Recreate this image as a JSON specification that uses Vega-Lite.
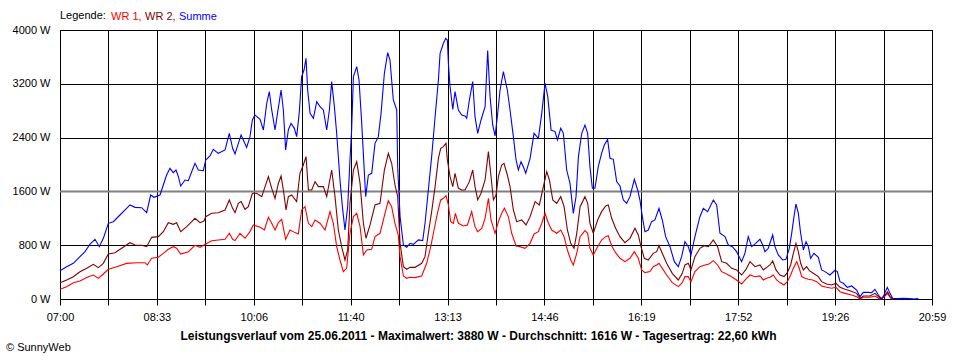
{
"$schema": "https://vega.github.io/schema/vega-lite/v6.json",
"width": 872, "height": 269,
"autosize": {"type": "none"},
"padding": {"left": 60, "top": 30, "right": 28, "bottom": 61},
"background": "white",
"config": {"font": "Liberation Sans", "view": {"stroke": "black", "strokeWidth": 1}},
"title": {"text": "© SunnyWeb", "orient": "bottom", "anchor": "start", "frame": "group", "dx": -54, "offset": 1, "fontSize": 11, "fontWeight": "normal", "color": "black", "font": "Liberation Sans"},
"datasets": {
"wr1": [{"t":420.0,"w":144},{"t":426.4,"w":183},{"t":432.8,"w":243},{"t":439.2,"w":268},{"t":447.3,"w":332},{"t":452.1,"w":357},{"t":456.9,"w":307},{"t":461.7,"w":372},{"t":466.5,"w":441},{"t":474.5,"w":480},{"t":484.1,"w":530},{"t":493.8,"w":540},{"t":501.8,"w":540},{"t":504.0,"w":506},{"t":508.2,"w":605},{"t":514.6,"w":620},{"t":519.4,"w":679},{"t":524.2,"w":739},{"t":529.0,"w":778},{"t":532.2,"w":754},{"t":536.1,"w":669},{"t":543.5,"w":704},{"t":549.9,"w":798},{"t":554.7,"w":769},{"t":560.2,"w":818},{"t":565.9,"w":867},{"t":572.3,"w":877},{"t":578.8,"w":888},{"t":582.9,"w":977},{"t":586.1,"w":888},
{"t":588.4,"w":868},{"t":593.2,"w":977},{"t":598.0,"w":903},{"t":602.8,"w":1002},{"t":606.0,"w":1101},{"t":612.5,"w":1066},{"t":616.6,"w":1026},{"t":620.5,"w":1215},{"t":623.7,"w":1126},{"t":626.9,"w":1026},{"t":630.1,"w":1135},{"t":633.3,"w":1185},{"t":637.1,"w":888},{"t":641.3,"w":1026},{"t":646.1,"w":987},{"t":649.3,"w":967},{"t":652.5,"w":1324},{"t":655.7,"w":1373},{"t":659.0,"w":1126},{"t":662.2,"w":1076},{"t":665.4,"w":1175},{"t":670.2,"w":1126},{"t":675.0,"w":1026},{"t":679.8,"w":1299},{"t":683.0,"w":1126},{"t":686.2,"w":779},{"t":689.4,"w":580},{"t":692.6,"w":407},{"t":695.8,"w":456},{"t":699.0,"w":977},{"t":702.3,"w":1225},{"t":705.5,"w":1274},{"t":708.7,"w":1076},{"t":711.9,"w":655},{"t":715.1,"w":729},{"t":719.9,"w":739},{"t":723.1,"w":927},{"t":727.9,"w":977},{"t":732.7,"w":1274},{"t":735.9,"w":1463},{"t":739.1,"w":1373},{"t":742.3,"w":1126},{"t":745.5,"w":952},{"t":747.2,"w":630},{"t":750.4,"w":342},{"t":753.6,"w":308},
{"t":756.8,"w":323},{"t":761.6,"w":318},{"t":768.0,"w":342},{"t":772.8,"w":531},{"t":776.7,"w":779},{"t":779.9,"w":1026},{"t":783.1,"w":1274},{"t":786.3,"w":1473},{"t":788.9,"w":1497},{"t":791.4,"w":1537},{"t":793.7,"w":1398},{"t":795.9,"w":1150},{"t":798.5,"w":1126},{"t":800.4,"w":1274},{"t":803.3,"w":1126},{"t":808.1,"w":1086},{"t":812.0,"w":1101},{"t":816.1,"w":1299},{"t":819.3,"w":1076},{"t":821.9,"w":1002},{"t":825.8,"w":1051},{"t":829.0,"w":1200},{"t":832.2,"w":1497},{"t":834.7,"w":1175},{"t":838.6,"w":977},{"t":841.8,"w":1150},{"t":845.0,"w":1274},{"t":847.6,"w":1349},{"t":851.4,"w":1225},{"t":854.6,"w":977},{"t":858.8,"w":789},{"t":862.6,"w":779},{"t":867.4,"w":754},{"t":872.3,"w":828},{"t":876.1,"w":967},{"t":880.3,"w":1002},{"t":883.5,"w":1126},{"t":886.7,"w":1274},{"t":889.9,"w":1126},{"t":893.1,"w":1026},{"t":897.9,"w":977},{"t":901.8,"w":1026},{"t":905.0,"w":927},{"t":908.2,"w":729},{"t":911.4,"w":580},{"t":913.9,"w":506},{"t":917.2,"w":679},{"t":920.4,"w":927},
{"t":925.1,"w":1016},{"t":927.7,"w":977},{"t":929.9,"w":754},{"t":933.1,"w":654},{"t":937.3,"w":778},{"t":941.1,"w":877},{"t":945.0,"w":927},{"t":947.5,"w":942},{"t":950.8,"w":788},{"t":954.6,"w":689},{"t":958.8,"w":605},{"t":963.6,"w":555},{"t":968.4,"w":605},{"t":972.6,"w":704},{"t":976.4,"w":605},{"t":979.6,"w":432},{"t":982.8,"w":392},{"t":987.6,"w":407},{"t":990.8,"w":481},{"t":994.1,"w":506},{"t":996.3,"w":531},{"t":999.5,"w":456},{"t":1003.7,"w":357},{"t":1009.1,"w":243},{"t":1014.9,"w":184},{"t":1018.7,"w":243},{"t":1021.3,"w":332},{"t":1024.5,"w":332},{"t":1027.1,"w":258},{"t":1030.9,"w":407},{"t":1035.7,"w":481},{"t":1040.6,"w":506},{"t":1044.4,"w":521},{"t":1048.6,"w":570},{"t":1052.7,"w":506},{"t":1056.6,"w":407},{"t":1061.4,"w":372},{"t":1066.2,"w":332},{"t":1071.0,"w":283},{"t":1075.8,"w":223},{"t":1079.7,"w":293},{"t":1083.9,"w":357},{"t":1088.7,"w":332},
{"t":1093.5,"w":343},{"t":1096.7,"w":283},{"t":1099.9,"w":308},{"t":1103.1,"w":323},{"t":1106.3,"w":357},{"t":1109.5,"w":283},{"t":1112.7,"w":244},{"t":1116.6,"w":209},{"t":1119.8,"w":258},{"t":1123.0,"w":357},{"t":1125.6,"w":457},{"t":1128.8,"w":556},{"t":1131.3,"w":457},{"t":1133.6,"w":333},{"t":1136.8,"w":308},{"t":1140.0,"w":293},{"t":1144.2,"w":283},{"t":1148.0,"w":258},{"t":1152.8,"w":194},{"t":1157.6,"w":174},{"t":1162.5,"w":159},{"t":1166.6,"w":174},{"t":1170.5,"w":109},{"t":1175.3,"w":84},{"t":1181.7,"w":59},{"t":1186.5,"w":35},{"t":1189.7,"w":0},{"t":1192.9,"w":25},{"t":1199.3,"w":25},{"t":1204.1,"w":45},{"t":1208.9,"w":0},{"t":1213.8,"w":45},{"t":1216.3,"w":84},{"t":1219.2,"w":10},{"t":1221.8,"w":0}],
"wr2": [{"t":420.0,"w":243},{"t":426.4,"w":282},{"t":432.8,"w":332},{"t":439.2,"w":406},{"t":445.7,"w":456},{"t":452.1,"w":516},{"t":456.9,"w":466},{"t":461.7,"w":530},{"t":466.5,"w":669},{"t":472.9,"w":689},{"t":479.3,"w":754},{"t":487.3,"w":837},{"t":492.2,"w":803},{"t":498.6,"w":798},{"t":503.4,"w":778},{"t":508.2,"w":917},{"t":514.6,"w":927},{"t":519.4,"w":1001},{"t":524.2,"w":1135},{"t":529.0,"w":1110},{"t":532.2,"w":1135},{"t":536.1,"w":1001},{"t":541.9,"w":1075},{"t":546.7,"w":1150},{"t":549.9,"w":1199},{"t":554.7,"w":1135},{"t":558.5,"w":1160},{"t":560.2,"w":1224},{"t":565.9,"w":1274},{"t":572.3,"w":1283},{"t":578.8,"w":1323},{"t":582.9,"w":1472},{"t":586.1,"w":1348},
{"t":588.4,"w":1284},{"t":591.6,"w":1423},{"t":594.2,"w":1448},{"t":598.0,"w":1334},{"t":601.2,"w":1373},{"t":605.1,"w":1572},{"t":609.2,"w":1572},{"t":614.1,"w":1522},{"t":617.3,"w":1671},{"t":620.5,"w":1819},{"t":623.7,"w":1646},{"t":626.9,"w":1497},{"t":630.1,"w":1720},{"t":632.7,"w":1829},{"t":634.9,"w":1621},{"t":637.5,"w":1324},{"t":639.7,"w":1522},{"t":642.9,"w":1547},{"t":647.7,"w":1448},{"t":650.9,"w":1869},{"t":654.1,"w":1993},{"t":656.7,"w":2117},{"t":659.0,"w":1621},{"t":662.2,"w":1621},{"t":665.4,"w":1745},{"t":668.6,"w":1671},{"t":673.4,"w":1671},{"t":676.6,"w":1522},{"t":681.4,"w":1918},{"t":684.6,"w":1522},{"t":687.8,"w":1026},{"t":691.0,"w":779},{"t":694.2,"w":580},{"t":696.8,"w":729},{"t":699.0,"w":1423},{"t":702.3,"w":1918},{"t":705.5,"w":2042},{"t":708.7,"w":1720},{"t":711.9,"w":1126},{"t":714.4,"w":903},{"t":718.3,"w":1101},{"t":723.1,"w":1398},{"t":727.9,"w":1423},{"t":732.1,"w":1918},{"t":735.9,"w":2166},{"t":739.1,"w":2018},{"t":742.3,"w":1695},{"t":744.9,"w":1522},{"t":747.2,"w":828},{"t":750.4,"w":481},{"t":753.6,"w":442},
{"t":756.8,"w":471},{"t":761.6,"w":471},{"t":768.0,"w":531},{"t":771.2,"w":630},{"t":774.4,"w":977},{"t":777.6,"w":1299},{"t":780.9,"w":1671},{"t":784.1,"w":2092},{"t":786.3,"w":2241},{"t":788.9,"w":2265},{"t":791.4,"w":2315},{"t":792.7,"w":2067},{"t":795.3,"w":1819},{"t":797.9,"w":1671},{"t":800.1,"w":1869},{"t":803.3,"w":1646},{"t":806.5,"w":1621},{"t":809.7,"w":1621},{"t":813.9,"w":1745},{"t":817.1,"w":1918},{"t":819.3,"w":1671},{"t":821.9,"w":1473},{"t":825.1,"w":1572},{"t":829.0,"w":1770},{"t":832.2,"w":2191},{"t":834.4,"w":1869},{"t":837.0,"w":1473},{"t":839.5,"w":1547},{"t":841.8,"w":1819},{"t":845.0,"w":1993},{"t":847.2,"w":2018},{"t":850.4,"w":1844},{"t":853.0,"w":1671},{"t":856.2,"w":1324},{"t":859.4,"w":1150},{"t":864.2,"w":1175},{"t":868.4,"w":1101},{"t":872.3,"w":1225},{"t":877.1,"w":1448},{"t":881.2,"w":1398},{"t":885.1,"w":1671},{"t":888.3,"w":1894},{"t":890.9,"w":1770},{"t":894.1,"w":1473},{"t":897.9,"w":1423},{"t":901.8,"w":1522},{"t":905.0,"w":1373},{"t":908.2,"w":1026},{"t":911.4,"w":828},{"t":914.6,"w":754},{"t":917.2,"w":977},{"t":920.4,"w":1373},
{"t":925.1,"w":1522},{"t":927.7,"w":1423},{"t":929.9,"w":1125},{"t":933.1,"w":977},{"t":937.3,"w":1175},{"t":941.1,"w":1299},{"t":945.0,"w":1383},{"t":947.5,"w":1398},{"t":950.8,"w":1200},{"t":954.6,"w":1051},{"t":958.8,"w":927},{"t":963.6,"w":838},{"t":968.4,"w":902},{"t":973.2,"w":1051},{"t":976.4,"w":952},{"t":979.0,"w":778},{"t":982.2,"w":605},{"t":986.0,"w":580},{"t":990.8,"w":679},{"t":994.1,"w":704},{"t":996.3,"w":793},{"t":999.5,"w":679},{"t":1003.7,"w":531},{"t":1009.1,"w":382},{"t":1014.9,"w":283},{"t":1018.7,"w":382},{"t":1021.3,"w":506},{"t":1024.5,"w":531},{"t":1027.1,"w":432},{"t":1030.9,"w":630},{"t":1035.7,"w":754},{"t":1039.9,"w":793},{"t":1043.8,"w":778},{"t":1048.6,"w":877},{"t":1052.7,"w":778},{"t":1056.6,"w":555},{"t":1061.4,"w":531},{"t":1066.2,"w":456},{"t":1071.0,"w":432},{"t":1075.8,"w":357},{"t":1079.7,"w":432},{"t":1083.9,"w":555},{"t":1088.7,"w":481},
{"t":1093.5,"w":506},{"t":1096.7,"w":432},{"t":1099.9,"w":471},{"t":1103.1,"w":506},{"t":1105.7,"w":566},{"t":1108.9,"w":432},{"t":1112.7,"w":357},{"t":1116.6,"w":333},{"t":1119.8,"w":392},{"t":1123.0,"w":506},{"t":1125.6,"w":680},{"t":1128.1,"w":828},{"t":1130.4,"w":704},{"t":1132.6,"w":531},{"t":1135.2,"w":432},{"t":1138.4,"w":481},{"t":1141.0,"w":422},{"t":1144.8,"w":382},{"t":1149.6,"w":333},{"t":1152.8,"w":258},{"t":1157.6,"w":224},{"t":1162.5,"w":209},{"t":1166.6,"w":234},{"t":1170.5,"w":174},{"t":1175.3,"w":144},{"t":1180.1,"w":124},{"t":1186.5,"w":84},{"t":1189.7,"w":10},{"t":1192.9,"w":45},{"t":1199.3,"w":45},{"t":1204.1,"w":84},{"t":1207.4,"w":35},{"t":1210.6,"w":0},{"t":1213.8,"w":59},{"t":1216.3,"w":109},{"t":1218.6,"w":35},{"t":1221.8,"w":0}],
"sum": [{"t":420.0,"w":421},{"t":426.4,"w":480},{"t":432.8,"w":530},{"t":439.2,"w":629},{"t":444.1,"w":704},{"t":448.9,"w":818},{"t":453.7,"w":888},{"t":457.8,"w":778},{"t":461.7,"w":902},{"t":466.5,"w":1125},{"t":471.3,"w":1150},{"t":477.7,"w":1249},{"t":484.1,"w":1348},{"t":487.3,"w":1398},{"t":492.2,"w":1363},{"t":498.6,"w":1358},{"t":503.4,"w":1283},{"t":507.2,"w":1546},{"t":510.4,"w":1512},{"t":516.2,"w":1546},{"t":519.4,"w":1695},{"t":522.6,"w":1844},{"t":525.8,"w":1943},{"t":529.0,"w":1878},{"t":531.6,"w":1918},{"t":533.9,"w":1819},{"t":536.1,"w":1680},{"t":540.3,"w":1769},{"t":543.5,"w":1759},{"t":546.7,"w":1893},{"t":549.9,"w":2018},{"t":553.1,"w":1918},{"t":557.9,"w":1908},{"t":560.2,"w":2067},{"t":564.3,"w":2126},{"t":567.5,"w":2226},{"t":572.3,"w":2166},{"t":578.8,"w":2216},{"t":582.9,"w":2464},{"t":586.1,"w":2241},
{"t":588.4,"w":2156},{"t":591.6,"w":2315},{"t":594.2,"w":2439},{"t":596.4,"w":2365},{"t":599.6,"w":2255},{"t":602.8,"w":2414},{"t":605.1,"w":2662},{"t":607.6,"w":2736},{"t":612.5,"w":2672},{"t":615.7,"w":2513},{"t":618.9,"w":2910},{"t":621.4,"w":3083},{"t":623.7,"w":2811},{"t":626.9,"w":2513},{"t":629.5,"w":2786},{"t":632.7,"w":3108},{"t":634.9,"w":2811},{"t":637.1,"w":2216},{"t":639.7,"w":2513},{"t":642.3,"w":2612},{"t":645.5,"w":2538},{"t":647.7,"w":2414},{"t":650.3,"w":2786},{"t":652.5,"w":3306},{"t":654.8,"w":3405},{"t":656.7,"w":3579},{"t":658.3,"w":3108},{"t":660.6,"w":2761},{"t":663.8,"w":2687},{"t":667.0,"w":2934},{"t":670.2,"w":2860},{"t":673.4,"w":2811},{"t":676.6,"w":2513},{"t":679.2,"w":2811},{"t":681.4,"w":3232},{"t":684.0,"w":2860},{"t":686.2,"w":2464},{"t":689.4,"w":1770},{"t":691.7,"w":1373},{"t":694.2,"w":1026},{"t":696.8,"w":1373},{"t":699.0,"w":2067},{"t":700.6,"w":2513},{"t":702.3,"w":3306},{"t":705.5,"w":3455},{"t":707.7,"w":3257},{"t":710.3,"w":2612},{"t":714.1,"w":1522},{"t":716.7,"w":1844},{"t":719.9,"w":1869},{"t":723.1,"w":2315},{"t":726.3,"w":2414},{"t":728.9,"w":2761},{"t":732.1,"w":3356},{"t":735.3,"w":3663},{"t":737.5,"w":3554},{"t":740.7,"w":2959},{"t":744.0,"w":2811},{"t":744.9,"w":1968},{"t":747.2,"w":1225},{"t":750.4,"w":803},{"t":753.6,"w":769},
{"t":756.8,"w":828},{"t":760.0,"w":813},{"t":764.8,"w":878},{"t":769.0,"w":868},{"t":771.2,"w":1126},{"t":774.4,"w":1621},{"t":777.6,"w":2117},{"t":780.9,"w":2711},{"t":784.1,"w":3257},{"t":785.7,"w":3653},{"t":788.9,"w":3802},{"t":791.1,"w":3876},{"t":792.7,"w":3851},{"t":793.7,"w":3504},{"t":795.3,"w":3157},{"t":797.9,"w":2820},{"t":800.1,"w":3083},{"t":803.3,"w":2811},{"t":806.5,"w":2736},{"t":809.7,"w":2721},{"t":811.3,"w":2687},{"t":813.9,"w":2959},{"t":817.1,"w":3232},{"t":819.3,"w":2711},{"t":821.9,"w":2464},{"t":825.1,"w":2662},{"t":829.0,"w":2860},{"t":831.5,"w":3693},{"t":833.8,"w":3009},{"t":836.3,"w":2588},{"t":838.6,"w":2424},{"t":840.8,"w":2711},{"t":843.4,"w":3108},{"t":846.6,"w":3380},{"t":850.4,"w":3108},{"t":853.0,"w":2811},{"t":856.2,"w":2414},{"t":858.8,"w":2067},{"t":861.0,"w":1918},{"t":863.6,"w":2042},{"t":865.8,"w":1968},{"t":868.1,"w":1869},{"t":872.3,"w":2092},{"t":876.1,"w":2464},{"t":880.3,"w":2389},{"t":883.5,"w":2761},{"t":886.7,"w":3207},{"t":889.3,"w":3009},{"t":892.5,"w":2513},{"t":896.3,"w":2489},{"t":898.6,"w":2365},{"t":901.8,"w":2538},{"t":904.3,"w":2464},{"t":907.5,"w":1918},{"t":910.7,"w":1720},{"t":913.9,"w":1274},{"t":916.5,"w":1522},{"t":918.8,"w":2117},{"t":922.0,"w":2464},
{"t":925.1,"w":2587},{"t":927.7,"w":2463},{"t":929.9,"w":1968},{"t":932.2,"w":1646},{"t":934.7,"w":1646},{"t":937.9,"w":1968},{"t":941.1,"w":2166},{"t":943.7,"w":2290},{"t":946.9,"w":2374},{"t":949.2,"w":2092},{"t":952.4,"w":2077},{"t":955.6,"w":1745},{"t":958.8,"w":1680},{"t":962.0,"w":1472},{"t":965.2,"w":1423},{"t":968.4,"w":1522},{"t":972.6,"w":1779},{"t":975.8,"w":1621},{"t":978.0,"w":1472},{"t":980.3,"w":1224},{"t":982.8,"w":1001},{"t":986.0,"w":1026},{"t":989.2,"w":1150},{"t":992.4,"w":1175},{"t":996.3,"w":1348},{"t":999.5,"w":1175},{"t":1002.7,"w":927},{"t":1006.9,"w":778},{"t":1011.1,"w":555},{"t":1014.9,"w":481},{"t":1018.1,"w":630},{"t":1021.3,"w":853},{"t":1024.5,"w":778},{"t":1027.1,"w":654},{"t":1030.9,"w":927},{"t":1035.7,"w":1224},{"t":1039.0,"w":1348},{"t":1043.1,"w":1299},{"t":1048.6,"w":1472},{"t":1051.8,"w":1398},{"t":1055.0,"w":977},{"t":1059.8,"w":927},{"t":1063.0,"w":803},{"t":1066.9,"w":778},{"t":1071.0,"w":704},{"t":1075.8,"w":555},{"t":1079.0,"w":679},{"t":1082.2,"w":927},{"t":1085.5,"w":778},{"t":1089.3,"w":828},
{"t":1093.5,"w":888},{"t":1096.1,"w":804},{"t":1098.3,"w":704},{"t":1101.5,"w":754},{"t":1105.7,"w":952},{"t":1107.9,"w":779},{"t":1111.1,"w":655},{"t":1115.3,"w":581},{"t":1118.5,"w":590},{"t":1121.7,"w":754},{"t":1124.0,"w":977},{"t":1126.2,"w":1225},{"t":1128.1,"w":1413},{"t":1130.4,"w":1274},{"t":1132.6,"w":977},{"t":1135.2,"w":729},{"t":1137.8,"w":853},{"t":1140.0,"w":779},{"t":1142.2,"w":605},{"t":1145.5,"w":680},{"t":1149.6,"w":620},{"t":1152.8,"w":432},{"t":1156.0,"w":407},{"t":1160.8,"w":357},{"t":1165.7,"w":427},{"t":1167.9,"w":407},{"t":1170.5,"w":258},{"t":1173.7,"w":234},{"t":1177.5,"w":174},{"t":1181.7,"w":194},{"t":1186.5,"w":132},{"t":1189.7,"w":35},{"t":1192.9,"w":99},{"t":1197.7,"w":99},{"t":1200.9,"w":94},{"t":1204.1,"w":144},{"t":1207.4,"w":59},{"t":1210.6,"w":0},{"t":1212.8,"w":59},{"t":1216.0,"w":174},{"t":1218.6,"w":84},{"t":1221.1,"w":10},{"t":1225.0,"w":5},{"t":1231.4,"w":10},{"t":1237.8,"w":5},{"t":1242.6,"w":0},{"t":1245.8,"w":10}]
},
"layer": [
{"data": {"values": [{"w": 1600}]}, "mark": {"type": "rule", "color": "#808080", "strokeWidth": 2}, "encoding": {"y": {"field": "w", "type": "quantitative"}}},
{"data": {"name": "wr1"}, "mark": {"type": "line", "strokeWidth": 1.1},
 "encoding": {
  "x": {"field": "t", "type": "quantitative", "scale": {"domain": [420, 1259], "nice": false, "zero": false},
   "axis": {"values": [420,466.61,513.22,559.83,606.44,653.06,699.67,746.28,792.89,839.5,886.11,932.72,979.33,1025.94,1072.56,1119.17,1165.78,1212.39,1259],
    "labelExpr": "['07:00','','08:33','','10:06','','11:40','','13:13','','14:46','','16:19','','17:52','','19:26','','20:59'][round((datum.value-420)/46.611)]",
    "grid": true, "gridColor": "black", "gridOpacity": 1, "gridWidth": 1, "domain": false,
    "ticks": true, "tickColor": "black", "tickSize": 6, "tickWidth": 1,
    "labelColor": "black", "labelFont": "Liberation Sans", "labelFontSize": 11, "labelPadding": 6, "labelFlush": false, "labelOverlap": false,
    "title": "Leistungsverlauf vom 25.06.2011 - Maximalwert: 3880 W - Durchschnitt: 1616 W - Tagesertrag: 22,60 kWh",
    "titleFont": "Liberation Sans", "titleFontSize": 12, "titleFontWeight": "bold", "titleColor": "black", "titlePadding": 8, "titleX": 418}},
  "y": {"field": "w", "type": "quantitative", "scale": {"domain": [0, 4000], "nice": false},
   "axis": {"values": [0,800,1600,2400,3200,4000], "labelExpr": "datum.value + ' W'",
    "grid": true, "gridColor": "black", "gridOpacity": 1, "gridWidth": 1, "domain": false, "ticks": false,
    "labelColor": "black", "labelFont": "Liberation Sans", "labelFontSize": 11, "labelPadding": 10, "title": null}},
  "color": {"datum": "WR 1", "type": "nominal",
   "scale": {"domain": ["WR 1", "WR 2", "Summe"], "range": ["#ff0000", "#800000", "#0000ff"]},
   "legend": {"orient": "none", "legendX": 0, "legendY": -19, "direction": "horizontal", "gridAlign": "none",
    "title": "Legende:", "titleOrient": "left", "titleFontWeight": "normal", "titleFontSize": 11, "titleFont": "Liberation Sans", "titleColor": "black", "titlePadding": 6,
    "symbolType": "circle", "symbolSize": 1, "symbolStrokeWidth": 0, "symbolOpacity": 0, "labelOffset": -12, "columnPadding": 3,
    "labelFontSize": 11, "labelFont": "Liberation Sans",
    "labelExpr": "datum.label == 'Summe' ? datum.label : datum.label + ','",
    "encode": {"labels": {"update": {"fill": {"scale": "color", "field": "value"}}}}}}
 }},
{"data": {"name": "wr2"}, "mark": {"type": "line", "strokeWidth": 1.1}, "encoding": {"x": {"field": "t", "type": "quantitative"}, "y": {"field": "w", "type": "quantitative"}, "color": {"datum": "WR 2", "type": "nominal"}}},
{"data": {"name": "sum"}, "mark": {"type": "line", "strokeWidth": 1.1}, "encoding": {"x": {"field": "t", "type": "quantitative"}, "y": {"field": "w", "type": "quantitative"}, "color": {"datum": "Summe", "type": "nominal"}}}
]
}
